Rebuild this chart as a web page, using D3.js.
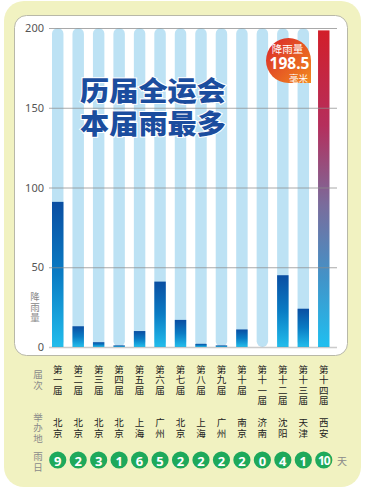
<!DOCTYPE html>
<html>
<head>
<meta charset="utf-8">
<script src="https://cdn.jsdelivr.net/npm/d3@7/dist/d3.min.js"></script>
<style>
  body { margin: 0; background: #fff; }
  svg text { font-family: "Noto Sans CJK SC", "Noto Sans", sans-serif; }
</style>
</head>
<body>
<div id="chart"></div>
<script>
var width = 365;
var height = 489;

// data
var sessions = ["第一届", "第二届", "第三届", "第四届", "第五届", "第六届", "第七届",
                "第八届", "第九届", "第十届", "第十一届", "第十二届", "第十三届", "第十四届"];
var cities = ["北京", "北京", "北京", "北京", "上海", "广州", "北京",
              "上海", "广州", "南京", "济南", "沈阳", "天津", "西安"];
var rainfall = [91, 13, 3, 1, 10, 41, 17, 2, 1, 11, 0, 45, 24, 198.5];
var rainDays = [9, 2, 3, 1, 6, 5, 2, 2, 2, 2, 0, 4, 1, 10];
var yTicks = [0, 50, 100, 150, 200];

var svg = d3.select("#chart").append("svg")
    .attr("width", width)
    .attr("height", height);

var defs = svg.append("defs");
var blue = defs.append("linearGradient").attr("id", "blueGrad")
    .attr("x1", 0).attr("y1", 0).attr("x2", 0).attr("y2", 1);
blue.append("stop").attr("offset", "0%").attr("stop-color", "#0a4ea2");
blue.append("stop").attr("offset", "50%").attr("stop-color", "#0a7cc4");
blue.append("stop").attr("offset", "100%").attr("stop-color", "#22bdec");

var red = defs.append("linearGradient").attr("id", "redGrad")
    .attr("x1", 0).attr("y1", 0).attr("x2", 0).attr("y2", 1);
red.append("stop").attr("offset", "0%").attr("stop-color", "#d21f2a");
red.append("stop").attr("offset", "30%").attr("stop-color", "#b52e5c");
red.append("stop").attr("offset", "55%").attr("stop-color", "#7a6c9c");
red.append("stop").attr("offset", "78%").attr("stop-color", "#4293c8");
red.append("stop").attr("offset", "100%").attr("stop-color", "#1fbff0");

var badgeGrad = defs.append("linearGradient").attr("id", "badgeGrad")
    .attr("x1", 0).attr("y1", 0).attr("x2", 1).attr("y2", 1);
badgeGrad.append("stop").attr("offset", "0%").attr("stop-color", "#d9252b");
badgeGrad.append("stop").attr("offset", "100%").attr("stop-color", "#f28a1e");

// card backgrounds
svg.append("rect")
    .attr("x", 4).attr("y", 1).attr("width", 357).attr("height", 486)
    .attr("rx", 20).attr("fill", "#f1f2c1");
svg.append("rect")
    .attr("x", 14.5).attr("y", 15.5).attr("width", 333).attr("height", 340)
    .attr("rx", 12).attr("fill", "#fff").attr("stroke", "#b8b8a8");

var x = d3.scaleBand()
    .domain(sessions)
    .range([47.5, 334])
    .paddingInner(0.44)
    .paddingOuter(0.22);

var y = d3.scaleLinear()
    .domain([0, 200])
    .range([347, 28]);

var bw = x.bandwidth();

// light blue tracks
svg.append("g").selectAll("rect")
    .data(sessions.slice(0, 13))
    .join("rect")
    .attr("x", d => x(d))
    .attr("y", y(200))
    .attr("width", bw)
    .attr("height", y(0) - y(200))
    .attr("rx", bw / 2)
    .attr("fill", "#bde2f4");

// value bars
svg.append("g").selectAll("rect")
    .data(rainfall)
    .join("rect")
    .attr("x", (d, i) => x(sessions[i]))
    .attr("y", d => y(d))
    .attr("width", bw)
    .attr("height", d => y(0) - y(d))
    .attr("fill", (d, i) => i === rainfall.length - 1 ? "url(#redGrad)" : "url(#blueGrad)");

// grid lines + ticks
var axis = d3.axisLeft(y).tickValues(yTicks).tickSize(-(337 - 49)).tickPadding(5);
var gAxis = svg.append("g")
    .attr("transform", "translate(49,0)")
    .call(axis);
gAxis.select(".domain").remove();
gAxis.selectAll(".tick line")
    .attr("stroke", "#8c8c8c")
    .attr("stroke-opacity", d => d === 0 ? 0.45 : 0.75)
    .attr("stroke-width", d => d === 0 ? 1.5 : 1);
gAxis.selectAll(".tick text")
    .attr("fill", "#555")
    .style("font-family", "'Noto Sans', sans-serif")
    .style("font-size", "11px");

// stacked vertical text, one text per character
function vertical(g, str, cx, y0, step, color, size) {
    g.selectAll(null)
        .data(str.split(""))
        .enter().append("text")
        .attr("x", cx).attr("y", (d, i) => y0 + i * step)
        .attr("text-anchor", "middle").attr("dominant-baseline", "central")
        .attr("fill", color).style("font-size", size + "px")
        .text(d => d);
}

// vertical y label
vertical(svg.append("g"), "降雨量", 35, 296, 10.5, "#888", 9.5);

// title
var title = svg.append("g");
["历届全运会", "本届雨最多"].forEach(function(line, i) {
    title.append("text")
        .attr("x", 80).attr("y", 101 + i * 33)
        .attr("fill", "#1b4d9e")
        .attr("stroke", "#fff").attr("stroke-width", 2)
        .attr("paint-order", "stroke")
        .attr("textLength", 146).attr("lengthAdjust", "spacingAndGlyphs")
        .style("font-size", "27px").style("font-weight", "900")
        .text(line);
});

// badge for the record value
var bx = 266, by = 38, bs = 45, r = bs / 2;
var badge = svg.append("g");
badge.append("path")
    .attr("d", "M" + (bx + bs) + "," + (by + bs) + " H" + (bx + r) +
        " A" + r + "," + r + " 0 1,1 " + (bx + bs) + "," + (by + r) + " Z")
    .attr("fill", "url(#badgeGrad)");
badge.append("text")
    .attr("x", bx + r - 1).attr("y", by + 15)
    .attr("text-anchor", "middle").attr("fill", "#fff")
    .style("font-size", "10.5px")
    .text("降雨量");
badge.append("text")
    .attr("x", bx + r + 1).attr("y", by + 31)
    .attr("text-anchor", "middle").attr("fill", "#fff")
    .style("font-size", "15.5px").style("font-weight", "bold")
    .style("font-family", "'Noto Sans', sans-serif")
    .text(rainfall[13]);
badge.append("text")
    .attr("x", bx + bs - 3).attr("y", by + 43.5)
    .attr("text-anchor", "end").attr("fill", "#fff")
    .style("font-size", "9.5px")
    .text("毫米");

// row headers
var heads = svg.append("g");
vertical(heads, "届次", 38, 374, 10.5, "#8a8a8a", 9.5);
vertical(heads, "举办地", 38, 416.5, 10.5, "#8a8a8a", 9.5);
vertical(heads, "雨日", 38, 456, 10.5, "#8a8a8a", 9.5);

// session and city labels
sessions.forEach(function(s, i) {
    var cx = x(s) + bw / 2;
    var g = svg.append("g");
    vertical(g, s, cx, 368.5, 10.5, "#222", 9.5);
    vertical(g, cities[i], cx, 422, 10.5, "#222", 9.5);
});

// rain day circles
var days = svg.append("g").selectAll("g")
    .data(rainDays)
    .join("g")
    .attr("transform", (d, i) => "translate(" + (x(sessions[i]) + bw / 2) + ",460)");
days.append("circle").attr("r", 8.6).attr("fill", "#1ea95b");
days.append("text")
    .attr("text-anchor", "middle").attr("dominant-baseline", "central")
    .attr("y", 0.5)
    .attr("fill", "#fff")
    .style("font-family", "'Noto Sans', sans-serif")
    .style("font-size", d => d >= 10 ? "12px" : "13px")
    .style("font-weight", "bold")
    .style("letter-spacing", d => d >= 10 ? "-1px" : "0px")
    .text(d => d);
svg.append("text")
    .attr("x", 342).attr("y", 460)
    .attr("text-anchor", "middle").attr("dominant-baseline", "central")
    .attr("fill", "#8a8a8a").style("font-size", "10px")
    .text("天");
</script>
</body>
</html>
